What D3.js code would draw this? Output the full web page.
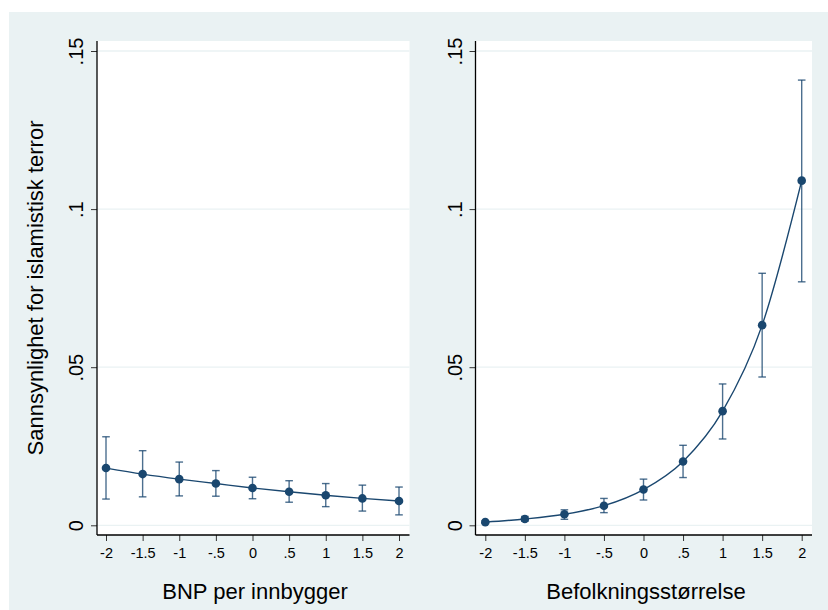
<!DOCTYPE html>
<html>
<head>
<meta charset="utf-8">
<script src="https://cdn.jsdelivr.net/npm/d3@7/dist/d3.min.js"></script>
<style>
  html, body { margin: 0; padding: 0; background: #ffffff; }
  svg { display: block; }
  text { font-family: "Liberation Sans", Arial, Helvetica, sans-serif; fill: #000; }
</style>
</head>
<body>
<svg id="chart" width="828" height="610"></svg>
<script>
// ---- Data ----
const xValues = [-2, -1.5, -1, -0.5, 0, 0.5, 1, 1.5, 2];
const xTickLabels = ["-2", "-1.5", "-1", "-.5", "0", ".5", "1", "1.5", "2"];
const yTicks = [0, 0.05, 0.1, 0.15];
const yTickLabels = ["0", ".05", ".1", ".15"];

// Left panel: BNP per innbygger
const gdpMean  = [0.0181, 0.0162, 0.0146, 0.0132, 0.0118, 0.0106, 0.0095, 0.0085, 0.0077];
const gdpLower = [0.0083, 0.0090, 0.0093, 0.0092, 0.0084, 0.0073, 0.0059, 0.0045, 0.0033];
const gdpUpper = [0.0280, 0.0236, 0.0200, 0.0173, 0.0152, 0.0141, 0.0132, 0.0127, 0.0121];

// Right panel: Befolkningsstørrelse
const popMean  = [0.0010, 0.0020, 0.0035, 0.0062, 0.0113, 0.0202, 0.0361, 0.0633, 0.1090];
const popLower = [0.0006, 0.0013, 0.0019, 0.0040, 0.0080, 0.0151, 0.0273, 0.0469, 0.0770];
const popUpper = [0.0014, 0.0028, 0.0049, 0.0085, 0.0146, 0.0253, 0.0447, 0.0797, 0.1408];

const yTitle = "Sannsynlighet for islamistisk terror";
const panels = [
  { title: "BNP per innbygger", mean: gdpMean, lower: gdpLower, upper: gdpUpper,
    plotL: 97, plotR: 409.5, x0: 106, x1: 399, titleX: 255 },
  { title: "Befolkningsstørrelse", mean: popMean, lower: popLower, upper: popUpper,
    plotL: 475.5, plotR: 812, x0: 485.3, x1: 801.7, titleX: 646 }
];

// ---- Drawing ----
const svg = d3.select("#chart");
const navy = "#1a476f";
const bg = "#eaf2f3";

svg.append("rect").attr("x", 9).attr("y", 12).attr("width", 819).attr("height", 598).attr("fill", bg);

const plotTop = 41, plotBottom = 535;
const y = d3.scaleLinear().domain([0, 0.15]).range([525.3, 51]);

// y title
svg.append("text")
  .attr("transform", `translate(42.5,${(plotTop + plotBottom) / 2}) rotate(-90)`)
  .attr("text-anchor", "middle")
  .style("font-size", "22px")
  .text(yTitle);

panels.forEach(p => {
  const x = d3.scaleLinear().domain([-2, 2]).range([p.x0, p.x1]);
  const g = svg.append("g");

  // plot area
  g.append("rect").attr("x", p.plotL).attr("y", plotTop)
    .attr("width", p.plotR - p.plotL).attr("height", plotBottom - plotTop).attr("fill", "#ffffff");

  // gridlines
  g.selectAll("line.grid").data(yTicks).join("line")
    .attr("x1", p.plotL).attr("x2", p.plotR)
    .attr("y1", d => y(d)).attr("y2", d => y(d))
    .attr("stroke", bg).attr("stroke-width", 1.3);

  // y axis
  const yAxis = d3.axisLeft(y).tickValues(yTicks).tickSize(6)
    .tickFormat((d, i) => yTickLabels[i]);
  const ya = g.append("g").attr("transform", `translate(${p.plotL},0)`).call(yAxis);
  ya.select(".domain").remove();
  ya.selectAll(".tick line").attr("stroke", "#333").attr("stroke-width", 1);
  ya.selectAll(".tick text")
    .attr("x", null).attr("dy", null)
    .attr("transform", "translate(-14,0) rotate(-90)")
    .attr("text-anchor", "middle")
    .style("font-size", "20px")
    .style("font-family", '"Liberation Sans", Arial, sans-serif')
    .attr("fill", "#000");
  g.append("line").attr("x1", p.plotL).attr("x2", p.plotL)
    .attr("y1", plotTop).attr("y2", plotBottom).attr("stroke", "#000").attr("stroke-width", 1.3);

  // x axis
  const xAxis = d3.axisBottom(x).tickValues(xValues).tickSize(6)
    .tickFormat((d, i) => xTickLabels[i]);
  const xa = g.append("g").attr("transform", `translate(0,${plotBottom})`).call(xAxis);
  xa.select(".domain").remove();
  xa.selectAll(".tick line").attr("stroke", "#333").attr("stroke-width", 1);
  xa.selectAll(".tick text")
    .attr("y", 22.5).attr("dy", null)
    .style("font-size", "14.5px")
    .style("font-family", '"Liberation Sans", Arial, sans-serif')
    .attr("fill", "#000");
  g.append("line").attr("x1", p.plotL).attr("x2", p.plotR)
    .attr("y1", plotBottom).attr("y2", plotBottom).attr("stroke", "#000").attr("stroke-width", 1.3);

  // x title
  g.append("text").attr("x", p.titleX).attr("y", 598.5)
    .attr("text-anchor", "middle").style("font-size", "22px").text(p.title);

  const pts = xValues.map((v, i) => ({ x: v, m: p.mean[i], lo: p.lower[i], hi: p.upper[i] }));

  // error bars
  const eb = g.append("g").attr("stroke", navy).attr("stroke-opacity", 0.78).attr("stroke-width", 1.4);
  eb.selectAll("line.v").data(pts).join("line")
    .attr("x1", d => x(d.x)).attr("x2", d => x(d.x))
    .attr("y1", d => y(d.lo)).attr("y2", d => y(d.hi));
  eb.selectAll("line.c1").data(pts).join("line")
    .attr("x1", d => x(d.x) - 3.8).attr("x2", d => x(d.x) + 3.8)
    .attr("y1", d => y(d.lo)).attr("y2", d => y(d.lo));
  eb.selectAll("line.c2").data(pts).join("line")
    .attr("x1", d => x(d.x) - 3.8).attr("x2", d => x(d.x) + 3.8)
    .attr("y1", d => y(d.hi)).attr("y2", d => y(d.hi));

  // line
  const line = d3.line().x(d => x(d.x)).y(d => y(d.m)).curve(d3.curveMonotoneX);
  g.append("path").datum(pts).attr("d", line)
    .attr("fill", "none").attr("stroke", navy).attr("stroke-width", 1.4);

  // markers
  g.selectAll("circle").data(pts).join("circle")
    .attr("cx", d => x(d.x)).attr("cy", d => y(d.m)).attr("r", 4.3)
    .attr("fill", navy);
});
</script>
</body>
</html>
